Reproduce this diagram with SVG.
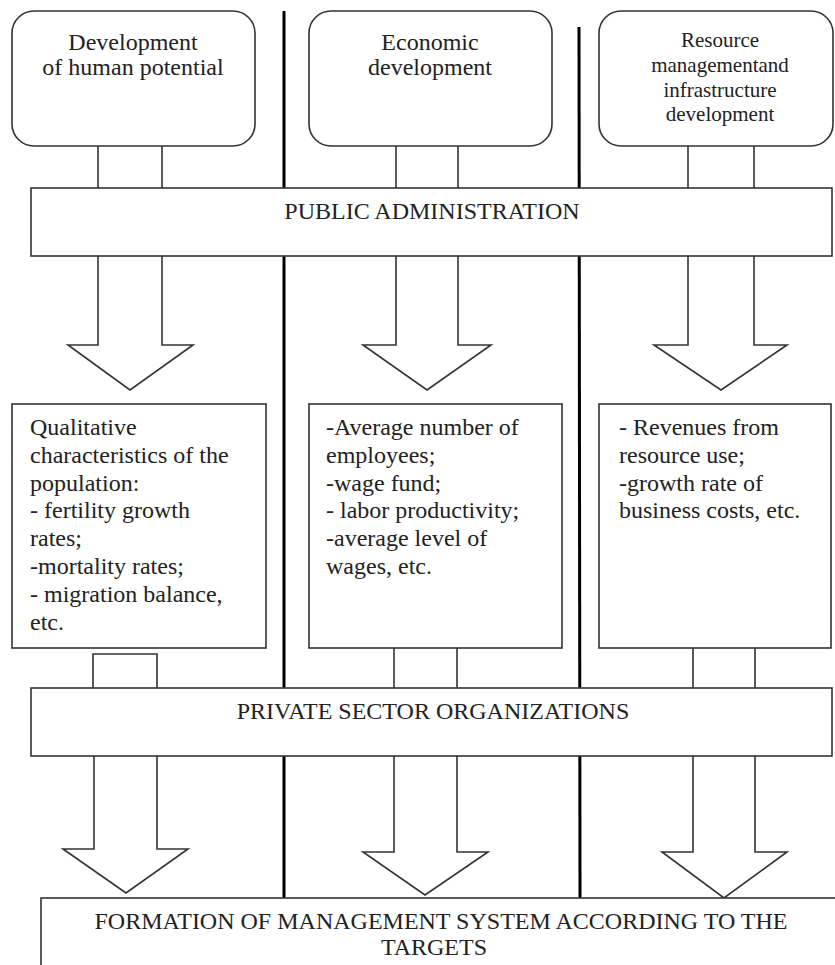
<svg xmlns="http://www.w3.org/2000/svg" width="835" height="965" viewBox="0 0 835 965">
<style>
.b{fill:#fff;stroke:#333;stroke-width:1.6}
.a{fill:#fff;stroke:#333;stroke-width:1.6;stroke-linejoin:miter}
.ln{fill:none;stroke:#333;stroke-width:1.6}
.div{stroke:#000;stroke-width:3}
text{font-family:"Liberation Serif","Times New Roman",serif;fill:#222;font-size:24px}
.c{text-anchor:middle}
.s{font-size:21px}
</style>
<rect width="835" height="965" fill="#fff"/>
<g id="dividers">
<line class="div" x1="284" y1="11" x2="284" y2="898"/>
<line class="div" x1="579" y1="27" x2="580" y2="898"/>
</g>
<g id="connectors">
<line class="ln" x1="98" y1="146" x2="98" y2="188"/>
<line class="ln" x1="162" y1="146" x2="162" y2="188"/>
<line class="ln" x1="396" y1="146" x2="396" y2="188"/>
<line class="ln" x1="458" y1="146" x2="458" y2="188"/>
<line class="ln" x1="688" y1="146" x2="688" y2="188"/>
<line class="ln" x1="754" y1="146" x2="754" y2="188"/>
<path class="a" d="M98,256 V345 H68 L130,390 L193,345 H162 V256"/>
<path class="a" d="M396,256 V345 H363 L427,390 L491,345 H458 V256"/>
<path class="a" d="M688,256 V345 H654 L721,390 L787,345 H754 V256"/>
<path class="ln" d="M93,688 V654 H157 V688"/>
<line class="ln" x1="394" y1="648" x2="394" y2="688"/>
<line class="ln" x1="457" y1="648" x2="457" y2="688"/>
<line class="ln" x1="693" y1="648" x2="693" y2="688"/>
<line class="ln" x1="755" y1="648" x2="755" y2="688"/>
<path class="a" d="M94,756 V849 H63 L126,893 L188,849 H157 V756"/>
<path class="a" d="M394,756 V852 H363 L425,895 L488,852 H457 V756"/>
<path class="a" d="M693,756 V852 H662 L724,898 L787,852 H755 V756"/>
</g>
<g id="human-potential">
<rect class="b" x="12" y="11" width="243" height="135" rx="22"/>
<text class="c" x="133" y="50">Development</text>
<text class="c" x="133" y="75">of human potential</text>
</g>
<g id="economic">
<rect class="b" x="309" y="11" width="243" height="135" rx="22"/>
<text class="c" x="430" y="50">Economic</text>
<text class="c" x="430" y="75">development</text>
</g>
<g id="resource">
<rect class="b" x="599" y="11" width="234" height="135" rx="22"/>
<text class="c s" x="720" y="47">Resource</text>
<text class="c s" x="720" y="72">managementand</text>
<text class="c s" x="720" y="97">infrastructure</text>
<text class="c s" x="720" y="121">development</text>
</g>
<g id="public-administration">
<rect class="b" x="31" y="188" width="801" height="68"/>
<text class="c" x="432" y="219">PUBLIC ADMINISTRATION</text>
</g>
<g id="population">
<rect class="b" x="12" y="404" width="254" height="244"/>
<text x="30" y="435">Qualitative</text>
<text x="30" y="463">characteristics of the</text>
<text x="30" y="491">population:</text>
<text x="30" y="518">- fertility growth</text>
<text x="30" y="546">rates;</text>
<text x="30" y="574">-mortality rates;</text>
<text x="30" y="602">- migration balance,</text>
<text x="30" y="630">etc.</text>
</g>
<g id="employment">
<rect class="b" x="309" y="404" width="253" height="244"/>
<text x="326" y="435">-Average number of</text>
<text x="326" y="463">employees;</text>
<text x="326" y="491">-wage fund;</text>
<text x="326" y="518">- labor productivity;</text>
<text x="326" y="546">-average level of</text>
<text x="326" y="574">wages, etc.</text>
</g>
<g id="revenues">
<rect class="b" x="599" y="404" width="232" height="244"/>
<text x="619" y="435">- Revenues from</text>
<text x="619" y="463">resource use;</text>
<text x="619" y="491">-growth rate of</text>
<text x="619" y="518">business costs, etc.</text>
</g>
<g id="private-sector">
<rect class="b" x="31" y="688" width="801" height="68"/>
<text class="c" x="433" y="719">PRIVATE SECTOR ORGANIZATIONS</text>
</g>
<g id="formation">
<rect class="b" x="41" y="898" width="820" height="100"/>
<text class="c" x="441" y="929">FORMATION OF MANAGEMENT SYSTEM ACCORDING TO THE</text>
<text class="c" x="434" y="955">TARGETS</text>
</g>
</svg>
